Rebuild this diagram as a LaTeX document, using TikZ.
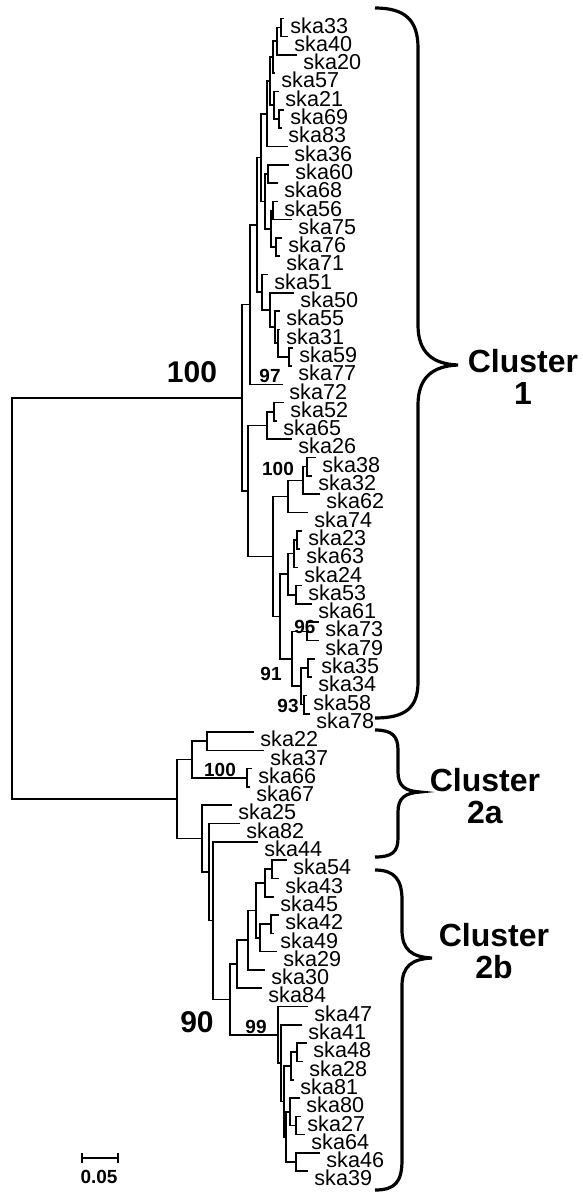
\documentclass[tikz,border=0pt]{standalone}
\usepackage{fontspec}
\setmainfont{Liberation Sans}
\begin{document}
\begin{tikzpicture}[x=0.5pt, y=-0.5pt,
  branch/.style={line width=0.8pt},
  taxon/.style={anchor=west, inner sep=0pt, xshift=3pt, yshift=-3.5pt, font=\fontsize{10.8}{12}\selectfont},
  boot/.style={inner sep=0pt, font=\bfseries\fontsize{9.5}{11}\selectfont},
  bigboot/.style={inner sep=0pt, font=\bfseries\fontsize{15}{18}\selectfont},
  clusterbrace/.style={line width=1.6pt},
  clusterlabel/.style={inner sep=0pt, align=center, font=\bfseries\fontsize{16}{16}\selectfont}]
\path[fill=white] (0,0) rectangle (583,1194);
\useasboundingbox (0,0) rectangle (583,1194);

\begin{scope}[y=-9.15pt]
\foreach \name/\tip [count=\row] in {ska33/284, ska40/288, ska20/297, ska57/275, ska21/279, ska69/284, ska83/282, ska36/288, ska60/289, ska68/278, ska56/278, ska75/292, ska76/282, ska71/280, ska51/268, ska50/294, ska55/280, ska31/280, ska59/293, ska77/292, ska72/283, ska52/284, ska65/277, ska26/292, ska38/316, ska32/312, ska62/320, ska74/308, ska23/302, ska63/300, ska24/298, ska53/302, ska61/312, ska73/319, ska79/319, ska35/315, ska34/312, ska58/307, ska78/310, ska22/254, ska37/264, ska66/252, ska67/250, ska25/232, ska82/240, ska44/258, ska54/287, ska43/279, ska45/274, ska42/279, ska49/274, ska29/277, ska30/265, ska84/262, ska47/308, ska41/302, ska48/307, ska28/303, ska81/294, ska80/300, ska27/301, ska64/305, ska46/320, ska39/308}
{
  \coordinate (\name) at (\tip,\row);
  \node[taxon] (\name-lab) at (\name) {\name};
}

\foreach \n/\x/\r in {a1/281/1.5, a2/277/2.25, a3/273/3.125, b1/279/6.5, b2/274/5.75, a4/270/4.4375, a5/267/6.219, c1/268/9.5, c2/273/11.5, c3/276/13.5, c4/271/12.5, c5/265/11, f1/261/8.609, d1/289/19.5, d2/278/18.75, d3/275/17.875, d4/270/16.9375, d5/262/15.969, e1/257/12.289, e2/250/16.645, h1/274/22.5, h2/267/23.25, i1/307/25.5, i2/303/26.25, i3/288/27.125, j1/297/29.5, j2/294/30.25, j3/296/32.5, j4/288/31.375, k1/307/34.5, k2/308/36.5, k3/304/38.5, k4/301/37.5, k5/292/36, l1/280/33.6875, m1/273/30.406, g1/248/26.828, cl1/242/21.736, n2/207/40.5, n1/247/42.5, n3/192/41.5, x3/272/47.5, x4/265/48.25, x1/271/50.5, x2/260/51.25, w1/256/49.75, v1/248/51.375, u1/237/52.6875, y1/297/57.5, y2/291/58.25, y3/296/61.5, y4/290/60.75, y5/296/63.5, y6/286/62.125, y7/284/60.1875, y8/281/58.094, y9/278/56.547, t1/230/54.617, s1/213/50.309, r1/209/47.654, q1/202/45.827, p1/177/43.664, root/12/32.70}
  \coordinate (\n) at (\x,\r);
\end{scope}

\foreach \p/\c in {a1/ska33, a1/ska40, a2/a1, a2/ska20, a3/a2, a3/ska57, b1/ska69, b1/ska83, b2/ska21, b2/b1, a4/a3, a4/b2, a5/a4, a5/ska36, c1/ska60, c1/ska68, c2/ska56, c2/ska75, c3/ska76, c3/ska71, c4/c2, c4/c3, c5/c1, c5/c4, f1/a5, f1/c5, d1/ska59, d1/ska77, d2/ska31, d2/d1, d3/ska55, d3/d2, d4/ska50, d4/d3, d5/ska51, d5/d4, e1/f1, e1/d5, e2/e1, e2/ska72, h1/ska52, h1/ska65, h2/h1, h2/ska26, i1/ska38, i1/ska32, i2/i1, i2/ska62, i3/i2, i3/ska74, j1/ska23, j1/ska63, j2/j1, j2/ska24, j3/ska53, j3/ska61, j4/j2, j4/j3, k1/ska73, k1/ska79, k2/ska35, k2/ska34, k3/ska58, k3/ska78, k4/k2, k4/k3, k5/k1, k5/k4, l1/j4, l1/k5, m1/i3, m1/l1, g1/h2, g1/m1, cl1/e2, cl1/g1, n2/ska22, n2/ska37, n1/ska66, n1/ska67, n3/n2, n3/n1, x3/ska54, x3/ska43, x4/x3, x4/ska45, x1/ska42, x1/ska49, x2/x1, x2/ska29, w1/x4, w1/x2, v1/w1, v1/ska30, u1/v1, u1/ska84, y1/ska48, y1/ska28, y2/y1, y2/ska81, y3/ska27, y3/ska64, y4/ska80, y4/y3, y5/ska46, y5/ska39, y6/y4, y6/y5, y7/y2, y7/y6, y8/ska41, y8/y7, y9/ska47, y9/y8, t1/u1, t1/y9, s1/ska44, s1/t1, r1/ska82, r1/s1, q1/ska25, q1/r1, p1/n3, p1/q1, root/cl1, root/p1}
  \draw[branch] (\p) |- (\c);

\node[bigboot] (bs1) at (192,372) {100};
\node[boot] (bs2) at (270,376) {97};
\node[boot] (bs3) at (278,469) {100};
\node[boot] (bs4) at (305,627) {96};
\node[boot] (bs5) at (271,674) {91};
\node[boot] (bs6) at (288,706) {93};
\node[boot] (bs7) at (220,770) {100};
\node[bigboot] (bs8) at (197,1022) {90};
\node[boot] (bs9) at (256,1027) {99};

\draw[branch] (82,1153) -- (82,1163) (82,1158) -- (118,1158) (118,1153) -- (118,1163);
\node[boot] (scale) at (99,1177) {0.05};

\draw[clusterbrace] (375,8) .. controls (405,8) and (418,20) .. (418,48) -- (418,325) .. controls (418,352) and (432,364) .. (458,365) .. controls (432,366) and (418,378) .. (418,405) -- (418,682) .. controls (418,708) and (405,718) .. (375,718);
\node[clusterlabel] (c1lab) at (523,377) {Cluster\\1};

\draw[clusterbrace] (375,730) .. controls (392,730) and (398,736) .. (398,750) -- (398,772) .. controls (398,786) and (405,791) .. (420,792) .. controls (405,793) and (398,798) .. (398,812) -- (398,838) .. controls (398,852) and (392,857) .. (375,857);
\node[clusterlabel] (c2alab) at (485,796) {Cluster\\2a};

\draw[clusterbrace] (375,870) .. controls (395,870) and (402,880) .. (402,900) -- (402,930) .. controls (402,950) and (412,957) .. (432,958) .. controls (412,959) and (402,966) .. (402,986) -- (402,1160) .. controls (402,1182) and (395,1190) .. (375,1190);
\node[clusterlabel] (c2blab) at (494,951) {Cluster\\2b};
\end{tikzpicture}
\end{document}
